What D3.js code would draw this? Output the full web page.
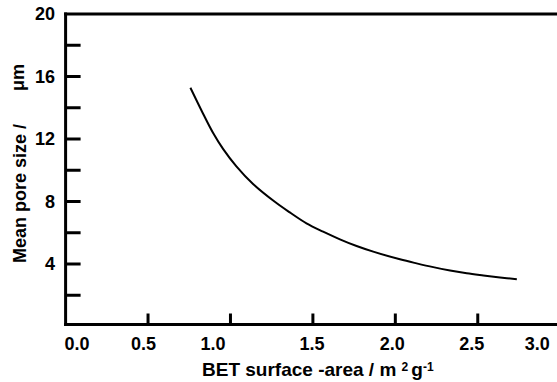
<!DOCTYPE html>
<html>
<head>
<meta charset="utf-8">
<script src="https://cdn.jsdelivr.net/npm/d3@7"></script>
<style>
  body { margin: 0; background: #fff; }
  text { font-family: "Liberation Sans", Arial, sans-serif; font-weight: bold; fill: #000; }
</style>
</head>
<body>
<div id="chart"></div>
<script>
// BET surface area (m2/g) vs mean pore size (um)
var surfaceArea = [0.757, 0.834, 0.894, 0.955, 1.036, 1.137, 1.269, 1.360, 1.461, 1.562,
                   1.664, 1.765, 1.866, 2.028, 2.129, 2.230, 2.332, 2.433, 2.534, 2.635, 2.737];
var poreSize = [15.28, 13.62, 12.40, 11.37, 10.25, 9.12, 7.98, 7.30, 6.60, 6.07,
                5.58, 5.15, 4.79, 4.30, 4.04, 3.80, 3.59, 3.41, 3.27, 3.14, 3.02];

var xTickValues = [0.5, 1.0, 1.5, 2.0, 2.5];
var xLabelValues = [0.0, 0.5, 1.0, 1.5, 2.0, 2.5, 3.0];
var yTickValues = [2, 4, 6, 8, 10, 12, 14, 16, 18];
var yLabelValues = [4, 8, 12, 16, 20];

// the original figure's x labels sit a bit off their ticks
var xLabelNudge = [11.5, -4.5, -17.5, -1, -3, -6, -23];

var width = 557, height = 382;

var svg = d3.select("#chart")
    .append("svg")
    .attr("width", width)
    .attr("height", height);

var x = d3.scaleLinear().domain([0, 3]).range([65.6, 560.2]);
var y = d3.scaleLinear().domain([0, 20]).range([326.5, 14]);

var axisY = 324.5;

// frame: top and left spines, bottom axis line
svg.append("line")
  .attr("x1", x(0) - 1.5).attr("x2", width)
  .attr("y1", y(20)).attr("y2", y(20))
  .attr("stroke", "#000").attr("stroke-width", 3);
svg.append("line")
  .attr("x1", x(0)).attr("x2", x(0))
  .attr("y1", y(20) - 1.5).attr("y2", axisY + 1.5)
  .attr("stroke", "#000").attr("stroke-width", 3);
svg.append("line")
  .attr("x1", x(0) - 1.5).attr("x2", width)
  .attr("y1", axisY).attr("y2", axisY)
  .attr("stroke", "#000").attr("stroke-width", 3);

// inward ticks
svg.selectAll(".ytick")
  .data(yTickValues)
  .enter().append("line")
  .attr("class", "ytick")
  .attr("x1", x(0)).attr("x2", x(0) + 15)
  .attr("y1", d => y(d)).attr("y2", d => y(d))
  .attr("stroke", "#000").attr("stroke-width", 3);

svg.selectAll(".xtick")
  .data(xTickValues)
  .enter().append("line")
  .attr("class", "xtick")
  .attr("x1", d => x(d)).attr("x2", d => x(d))
  .attr("y1", axisY).attr("y2", axisY - 11)
  .attr("stroke", "#000").attr("stroke-width", 3);

// tick labels
svg.selectAll(".ylabel")
  .data(yLabelValues)
  .enter().append("text")
  .attr("class", "ylabel")
  .attr("x", 55)
  .attr("y", d => y(d))
  .attr("dy", "0.36em")
  .attr("text-anchor", "end")
  .style("font-size", "18px")
  .text(d => d);

svg.selectAll(".xlabel")
  .data(xLabelValues)
  .enter().append("text")
  .attr("class", "xlabel")
  .attr("x", (d, i) => x(d) + xLabelNudge[i])
  .attr("y", 350)
  .attr("text-anchor", "middle")
  .style("font-size", "18px")
  .text(d => d3.format(".1f")(d));

// curve
var line = d3.line()
    .x((d, i) => x(surfaceArea[i]))
    .y(d => y(d))
    .curve(d3.curveCatmullRom.alpha(0.5));

svg.append("path")
  .attr("fill", "none")
  .attr("stroke", "#000")
  .attr("stroke-width", 2)
  .attr("d", line(poreSize));

// axis titles
var xt = svg.append("text")
  .attr("x", 202)
  .attr("y", 376)
  .style("font-size", "19px");
xt.append("tspan").text("BET surface -area / m ");
xt.append("tspan").attr("dy", -5).style("font-size", "12px").text("2");
xt.append("tspan").attr("dy", 5).attr("dx", 3).text("g");
xt.append("tspan").attr("dy", -5).style("font-size", "12px").text("-1");

var yt = svg.append("text")
  .attr("transform", "translate(26,263) rotate(-90)")
  .style("font-size", "18px");
yt.append("tspan").text("Mean pore size /");
yt.append("tspan").attr("dx", 33).attr("dy", -2).style("font-size", "18px").text("\u03bcm");
</script>
</body>
</html>
